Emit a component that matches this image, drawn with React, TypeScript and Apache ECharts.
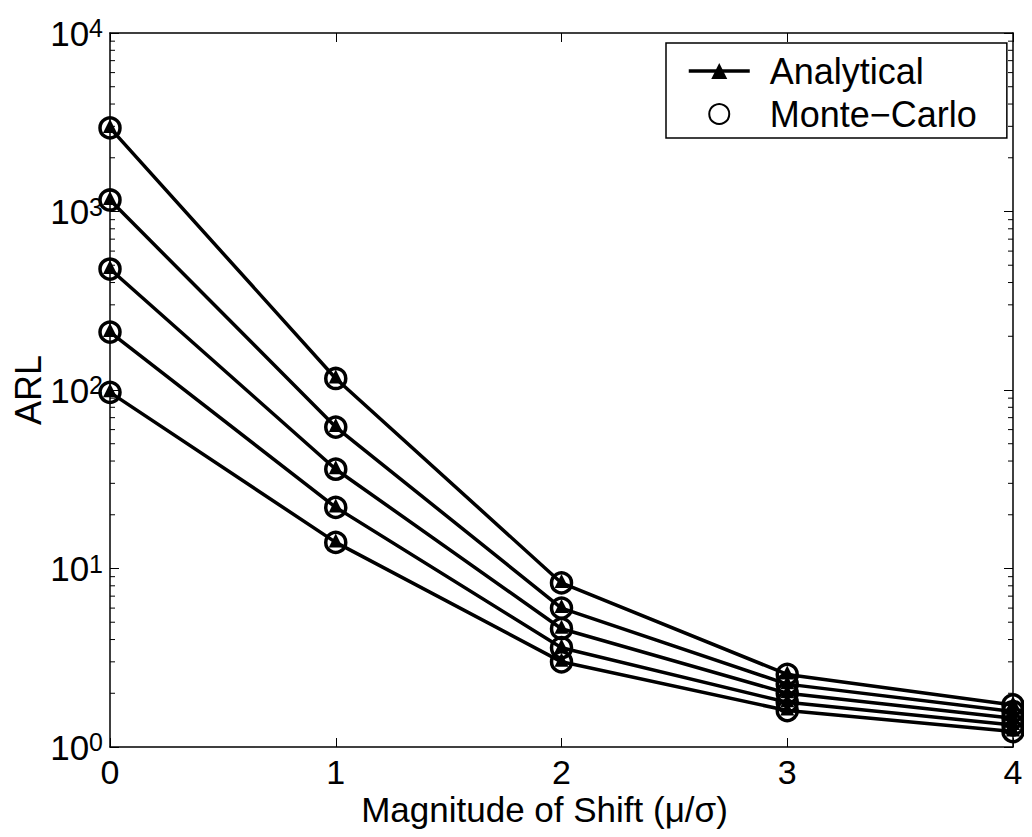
import React, { useEffect, useRef } from "react";
import * as echarts from "echarts";

// Shift magnitudes on the x axis
const shifts = [0, 1, 2, 3, 4];

// Analytical ARL curves, one per design, top to bottom
const analytical1 = [2940, 116, 8.3, 2.55, 1.72];
const analytical2 = [1160, 62, 6.0, 2.25, 1.58];
const analytical3 = [476, 36, 4.6, 2.0, 1.45];
const analytical4 = [211, 22, 3.6, 1.78, 1.33];
const analytical5 = [97, 14, 3.0, 1.6, 1.22];

// Monte-Carlo estimates at the same shifts
const monteCarlo1 = [2940, 116, 8.3, 2.55, 1.72];
const monteCarlo2 = [1160, 62, 6.0, 2.25, 1.58];
const monteCarlo3 = [476, 36, 4.6, 2.0, 1.45];
const monteCarlo4 = [211, 22, 3.6, 1.78, 1.33];
const monteCarlo5 = [97, 14, 3.0, 1.6, 1.22];

const analyticalSets = [analytical1, analytical2, analytical3, analytical4, analytical5];
const monteCarloSets = [monteCarlo1, monteCarlo2, monteCarlo3, monteCarlo4, monteCarlo5];

// Minor tick values for the log axis (2..9 within each decade)
const decades = [1, 10, 100, 1000];
const minorMultipliers = [2, 3, 4, 5, 6, 7, 8, 9];

const FONT = "'Liberation Sans', Arial, Helvetica, sans-serif";
const ANALYTICAL = "Analytical";
const MONTE_CARLO = "Monte\u2212Carlo";

export default function App() {
  const ref = useRef<HTMLDivElement>(null);

  useEffect(() => {
    if (!ref.current) return;
    const chart = echarts.init(ref.current, null, { renderer: "svg" });

    const minorData: number[][] = [];
    decades.forEach((d) => minorMultipliers.forEach((m) => minorData.push([0, m * d])));

    const lineSeries = analyticalSets.map((vals) => ({
      name: ANALYTICAL,
      type: "line",
      data: shifts.map((x, i) => [x, vals[i]]),
      symbol: "triangle",
      symbolSize: 14,
      symbolOffset: [0, -2],
      showAllSymbol: true,
      lineStyle: { color: "#000", width: 3.5 },
      itemStyle: { color: "#000" },
      z: 3,
    }));

    const scatterSeries = monteCarloSets.map((vals) => ({
      name: MONTE_CARLO,
      type: "scatter",
      data: shifts.map((x, i) => [x, vals[i]]),
      symbol: "circle",
      symbolSize: 20,
      itemStyle: { color: "rgba(0,0,0,0)", borderColor: "#000", borderWidth: 3.5, opacity: 1 },
      z: 4,
    }));

    const minorTicks = {
      type: "custom",
      silent: true,
      data: minorData,
      z: 2,
      renderItem: (params: any, api: any) => {
        const cs = params.coordSys;
        const pt = api.coord([0, api.value(1)]);
        const y = pt[1];
        const style = { stroke: "#000", lineWidth: 1 };
        return {
          type: "group",
          children: [
            { type: "line", shape: { x1: cs.x, y1: y, x2: cs.x + 5, y2: y }, style },
            { type: "line", shape: { x1: cs.x + cs.width - 5, y1: y, x2: cs.x + cs.width, y2: y }, style },
          ],
        };
      },
    };

    const axisLine = { show: true, onZero: false, lineStyle: { color: "#000", width: 1.5 } };
    const axisTick = { show: true, inside: true, length: 9, lineStyle: { color: "#000", width: 1 } };

    chart.setOption({
      animation: false,
      backgroundColor: "#fff",
      textStyle: { fontFamily: FONT },
      grid: { left: 110, right: 19, top: 33, bottom: 90, containLabel: false, outerBoundsMode: "none" },
      legend: {
        data: [ANALYTICAL, MONTE_CARLO],
        orient: "vertical",
        left: 666,
        top: 43,
        itemWidth: 61,
        itemHeight: 20,
        itemGap: 7,
        padding: [10, 30, 6, 21],
        borderColor: "#000",
        borderWidth: 1.5,
        backgroundColor: "#fff",
        lineStyle: { width: 3.5, color: "#000" },
        textStyle: { fontFamily: FONT, fontSize: 36, color: "#000", padding: [0, 0, 0, 15] },
        selectedMode: false,
      },
      xAxis: [
        {
          type: "value",
          min: 0,
          max: 4,
          interval: 1,
          name: "Magnitude of Shift (\u03bc/\u03c3)",
          nameLocation: "middle",
          nameGap: 45,
          nameMoveOverlap: false,
          nameTextStyle: { fontFamily: FONT, fontSize: 35, lineHeight: 35, color: "#000", padding: [0, 34, 0, 0] },
          axisLine,
          axisTick,
          splitLine: { show: false },
          axisLabel: { fontFamily: FONT, fontSize: 34, lineHeight: 28, color: "#000", margin: 11 },
        },
        {
          type: "value",
          position: "top",
          min: 0,
          max: 4,
          interval: 1,
          axisLine,
          axisTick,
          splitLine: { show: false },
          axisLabel: { show: false },
        },
      ],
      yAxis: [
        {
          type: "log",
          logBase: 10,
          min: 1,
          max: 10000,
          name: "ARL",
          nameLocation: "middle",
          nameGap: 64,
          nameMoveOverlap: false,
          nameTextStyle: { fontFamily: FONT, fontSize: 36, color: "#000" },
          axisLine,
          axisTick,
          splitLine: { show: false },
          axisLabel: {
            margin: 7,
            formatter: (v: number) => `{b|10}{s|${Math.round(Math.log10(v))}}`,
            rich: {
              b: { fontFamily: FONT, fontSize: 35, lineHeight: 35, padding: [8, 0, 0, 0], verticalAlign: "bottom", color: "#000" },
              s: { fontFamily: FONT, fontSize: 25, lineHeight: 25, verticalAlign: "top", color: "#000" },
            },
          },
        },
        {
          type: "log",
          logBase: 10,
          min: 1,
          max: 10000,
          position: "right",
          axisLine,
          axisTick,
          splitLine: { show: false },
          axisLabel: { show: false },
        },
      ],
      series: [minorTicks, ...lineSeries, ...scatterSeries],
    });

    return () => chart.dispose();
  }, []);

  return <div ref={ref} style={{ width: 1032, height: 837, margin: -8 }} />;
}
